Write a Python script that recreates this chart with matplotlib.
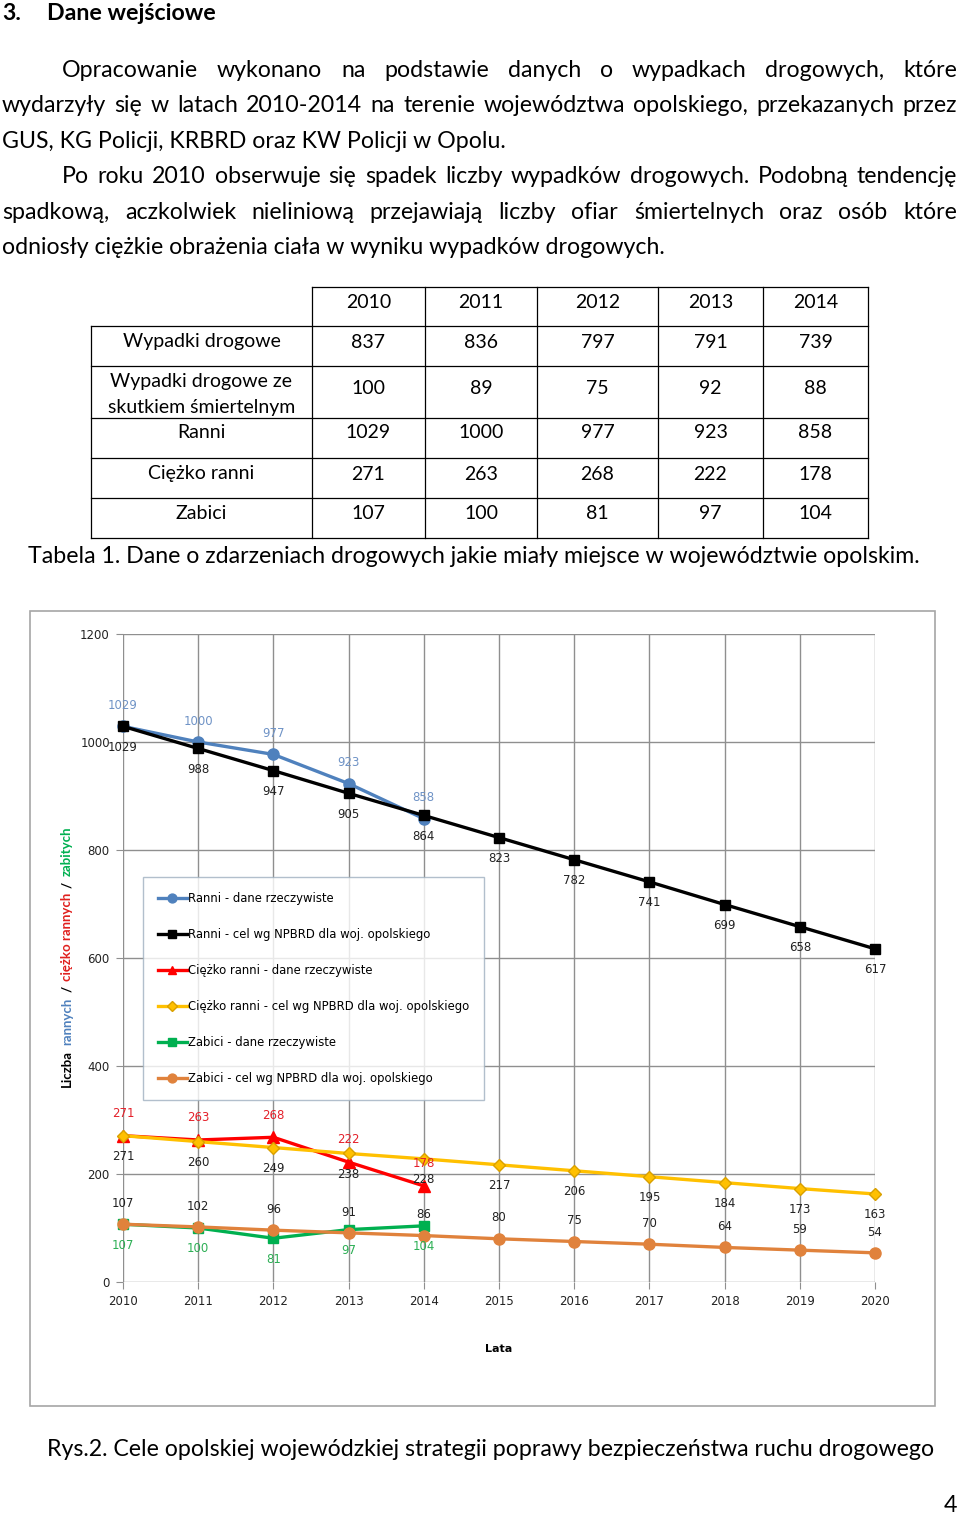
import numpy as np
import matplotlib
matplotlib.use("Agg")
import matplotlib.pyplot as plt
from matplotlib.lines import Line2D
from matplotlib.patches import Rectangle

# table data (2010-2014)
tab_lata = ["2010", "2011", "2012", "2013", "2014"]
wypadki = [837, 836, 797, 791, 739]
wypadki_smierc = [100, 89, 75, 92, 88]
ranni_fakt = [1029, 1000, 977, 923, 858]
ciezko_fakt = [271, 263, 268, 222, 178]
zabici_fakt = [107, 100, 81, 97, 104]

# chart data, targets to 2020
lata = [2010, 2011, 2012, 2013, 2014, 2015, 2016, 2017, 2018, 2019, 2020]
lata_fakt = lata[:5]
ranni_cel = [1029, 988, 947, 905, 864, 823, 782, 741, 699, 658, 617]
ciezko_cel = [271, 260, 249, 238, 228, 217, 206, 195, 184, 173, 163]
zabici_cel = [107, 102, 96, 91, 86, 80, 75, 70, 64, 59, 54]

W, H = 960, 1515
fig = plt.figure(figsize=(W / 100, H / 100), dpi=100)
BODY = "Lato"
FS = 16.7
rend = fig.canvas.get_renderer()


def fx(x):
    return x / W


def fy(y):
    return 1 - y / H


def ftext(x, y, s, **kw):
    return fig.text(fx(x), fy(y), s, **kw)


def hline(x0, x1, y, **kw):
    fig.add_artist(Line2D([fx(x0), fx(x1)], [fy(y), fy(y)], transform=fig.transFigure, **kw))


def vline(x, y0, y1, **kw):
    fig.add_artist(Line2D([fx(x), fx(x)], [fy(y0), fy(y1)], transform=fig.transFigure, **kw))


def justify(line, x0, x1, y):
    # spread the words of one line between x0 and x1
    words = line.split()
    tt = [ftext(0, y, w, family=BODY, fontsize=FS, va="baseline") for w in words]
    ww = [t.get_window_extent(rend).width for t in tt]
    gap = (x1 - x0 - sum(ww)) / (len(words) - 1)
    x = x0
    for t, w in zip(tt, ww):
        t.set_x(fx(x))
        x += w + gap


# heading and paragraphs
ftext(2, 20, "3.", family=BODY, fontsize=FS, weight="bold", va="baseline")
ftext(47, 20, "Dane wejściowe", family=BODY, fontsize=FS, weight="bold", va="baseline")

justify("Opracowanie wykonano na podstawie danych o wypadkach drogowych, które", 62, 957, 77)
justify("wydarzyły się w latach 2010-2014 na terenie województwa opolskiego, przekazanych przez", 2, 957, 112)
ftext(2, 148, "GUS, KG Policji, KRBRD oraz KW Policji w Opolu.", family=BODY, fontsize=FS, va="baseline")
justify("Po roku 2010 obserwuje się spadek liczby wypadków drogowych. Podobną tendencję", 62, 957, 183)
justify("spadkową, aczkolwiek nieliniową przejawiają liczby ofiar śmiertelnych oraz osób które", 2, 957, 219)
ftext(2, 254, "odniosły ciężkie obrażenia ciała w wyniku wypadków drogowych.", family=BODY, fontsize=FS, va="baseline")

# table
cols = [91, 312, 425, 537, 658, 763, 868]
rows = [287, 326, 366, 418, 458, 498, 538]
tl = dict(color="black", lw=0.9)
hline(cols[1], cols[-1], rows[0], **tl)
for r in rows[1:]:
    hline(cols[0], cols[-1], r, **tl)
vline(cols[0], rows[1], rows[-1], **tl)
for c in cols[1:]:
    vline(c, rows[0], rows[-1], **tl)

cx = [(cols[i] + cols[i + 1]) / 2 for i in range(len(cols) - 1)]
tk = dict(family=BODY, fontsize=14, ha="center", va="center")
for i, s in enumerate(tab_lata):
    ftext(cx[i + 1], 302, s, **tk)
tab_rows = [("Wypadki drogowe", wypadki, 342), ("", wypadki_smierc, 388),
            ("Ranni", ranni_fakt, 433), ("Ciężko ranni", ciezko_fakt, 474),
            ("Zabici", zabici_fakt, 513)]
for name, vals, y in tab_rows:
    if name:
        ftext(cx[0], y, name, **tk)
    for i, v in enumerate(vals):
        ftext(cx[i + 1], y, str(v), **tk)
ftext(cx[0], 381, "Wypadki drogowe ze", **tk)
ftext(cx[0], 407, "skutkiem śmiertelnym", **tk)

ftext(28, 563, "Tabela 1. Dane o zdarzeniach drogowych jakie miały miejsce w województwie opolskim.",
      family=BODY, fontsize=FS, va="baseline")

# chart frame
fig.add_artist(Rectangle((fx(30), fy(1406)), 905 / W, 795 / H, transform=fig.transFigure,
                         fill=False, edgecolor="#a6a6a6", lw=1.2))

ax = fig.add_axes([fx(123), fy(1282), 752 / W, 648 / H])
ax.set_xlim(2010, 2020)
ax.set_ylim(0, 1200)
ax.set_xticks(lata)
ax.set_yticks(np.arange(0, 1201, 200))
for sp in ax.spines.values():
    sp.set_visible(False)
ax.grid(True, color="#8f8f8f", lw=1.0)
ax.set_axisbelow(True)
ax.tick_params(length=5, color="#8f8f8f", labelsize=8.5, labelcolor="#222222", pad=4.5)
for lab in ax.get_xticklabels() + ax.get_yticklabels():
    lab.set_family("DejaVu Sans")
ax.set_xlabel("Lata", fontsize=8, weight="bold", labelpad=26)

series = [
    ("Ranni - dane rzeczywiste", lata_fakt, ranni_fakt, "#4f81bd", "o", 8, "#6f93c6", 15),
    ("Ranni - cel wg NPBRD dla woj. opolskiego", lata, ranni_cel, "#000000", "s", 7.5, "#222222", -15),
    ("Ciężko ranni - dane rzeczywiste", lata_fakt, ciezko_fakt, "#ff0000", "^", 8, "#e4202a", 16),
    ("Ciężko ranni - cel wg NPBRD dla woj. opolskiego", lata, ciezko_cel, "#ffc000", "D", 6.5, "#222222", -15),
    ("Zabici - dane rzeczywiste", lata_fakt, zabici_fakt, "#00b050", "s", 7.5, "#2daf55", -15),
    ("Zabici - cel wg NPBRD dla woj. opolskiego", lata, zabici_cel, "#e0823c", "o", 8, "#222222", 15),
]
for name, xs, ys, col, mk, ms, lc, off in series:
    mec = "#d9a000" if mk == "D" else col
    ax.plot(xs, ys, color=col, lw=2.4, marker=mk, ms=ms, mfc=col, mec=mec,
            label=name, clip_on=False)
    for x, y in zip(xs, ys):
        ax.annotate(str(y), (x, y), xytext=(0, off), textcoords="offset points",
                    ha="center", va="center", fontsize=8.5, color=lc,
                    family="DejaVu Sans")

leg = ax.legend(loc="upper left", bbox_to_anchor=(fx(143), fy(877)), bbox_transform=fig.transFigure,
                fontsize=8.4, frameon=True, fancybox=False, labelspacing=1.98, handlelength=2.5,
                handletextpad=0.15, borderpad=1.25, borderaxespad=0, markerscale=0.8)
leg.get_frame().set_edgecolor("#9fb0c0")
leg.get_frame().set_linewidth(1.0)

# multi-coloured y label
pieces = [("Liczba", "black"), ("rannych", "#4f81bd"), ("/", "black"),
          ("ciężko rannych", "#e0201e"), ("/", "black"), ("zabitych", "#00b050")]
y = 1087
for s, c in pieces:
    t = ftext(67, y, s, rotation=90, ha="center", va="bottom", fontsize=9.5,
              weight="bold", color=c, family=BODY)
    y -= t.get_window_extent(rend).height + 5.2

ftext(47, 1456, "Rys.2. Cele opolskiej wojewódzkiej strategii poprawy bezpieczeństwa ruchu drogowego",
      family=BODY, fontsize=FS, va="baseline")
ftext(957, 1512, "4", family=BODY, fontsize=FS, va="baseline", ha="right")

fig.savefig("out.png", dpi=100)
